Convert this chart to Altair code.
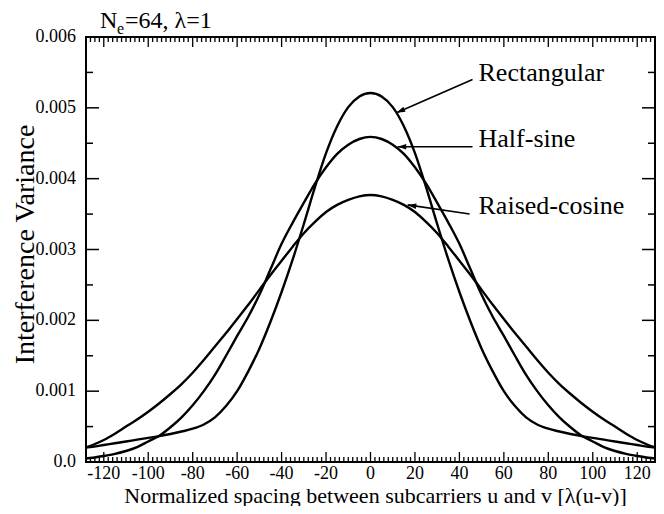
import math
import altair as alt
import pandas as pd

# ---------------- data ----------------
x_vals = [-128, -125, -120, -115, -110, -105, -100, -95, -90, -85, -80, -75, -70, -65,
          -60, -55, -50, -45, -40, -35, -30, -25, -20, -15, -10, -5, 0,
          5, 10, 15, 20, 25, 30, 35, 40, 45, 50, 55, 60, 65, 70, 75, 80, 85, 90, 95,
          100, 105, 110, 115, 120, 125, 128]

rectangular = [0.000205, 0.000215, 0.00024, 0.000265, 0.00029, 0.000315, 0.00034, 0.000365,
               0.000395, 0.00043, 0.00047, 0.00053, 0.00063, 0.00079, 0.00100, 0.00128,
               0.00160, 0.00198, 0.00240, 0.00286, 0.00336, 0.00388, 0.00436, 0.00474,
               0.00501, 0.00516, 0.00521,
               0.00516, 0.00501, 0.00474, 0.00436, 0.00388, 0.00336, 0.00286, 0.00240,
               0.00198, 0.00160, 0.00128, 0.00100, 0.00079, 0.00063, 0.00053, 0.00047,
               0.00043, 0.000395, 0.000365, 0.00034, 0.000315, 0.00029, 0.000265, 0.00024,
               0.000215, 0.000205]

half_sine = [0.00005, 0.00006, 0.000085, 0.000115, 0.000155, 0.00021, 0.00029, 0.00037,
             0.00049, 0.00063, 0.00080, 0.00100, 0.00123, 0.00150, 0.00178, 0.00205,
             0.00236, 0.00272, 0.00308, 0.00338, 0.00366, 0.00393, 0.00416, 0.00435,
             0.00448, 0.00456, 0.00459,
             0.00456, 0.00448, 0.00435, 0.00416, 0.00393, 0.00366, 0.00338, 0.00308,
             0.00272, 0.00236, 0.00205, 0.00178, 0.00150, 0.00123, 0.00100, 0.00080,
             0.00063, 0.00049, 0.00037, 0.00029, 0.00021, 0.000155, 0.000115, 0.000085,
             0.00006, 0.00005]

raised_cosine = [0.000205, 0.00024, 0.00031, 0.00040, 0.00050, 0.00060, 0.00071, 0.00083,
                 0.00096, 0.00110, 0.00126, 0.00144, 0.00163, 0.00182, 0.00202, 0.00222,
                 0.00243, 0.00264, 0.00284, 0.00304, 0.00323, 0.00339, 0.00353, 0.00363,
                 0.00370, 0.00375, 0.00377,
                 0.00375, 0.00370, 0.00363, 0.00353, 0.00339, 0.00323, 0.00304, 0.00284,
                 0.00264, 0.00243, 0.00222, 0.00202, 0.00182, 0.00163, 0.00144, 0.00126,
                 0.00110, 0.00096, 0.00083, 0.00071, 0.00060, 0.00050, 0.00040, 0.00031,
                 0.00024, 0.000205]

series_names = ["Rectangular", "Half-sine", "Raised-cosine"]

# annotation (labels and arrows), in data coordinates
ann_label = ["Rectangular", "Half-sine", "Raised-cosine"]
ann_text_x = [48.6, 48.6, 48.6]
ann_text_y = [0.00538, 0.00445, 0.00350]
ann_start_x = [45.9, 45.9, 44.6]
ann_start_y = [0.00540, 0.00445, 0.00350]
ann_tip_x = [11.7, 12.2, 16.7]
ann_tip_y = [0.00493, 0.00445, 0.00363]

x_major = [-120, -100, -80, -60, -40, -20, 0, 20, 40, 60, 80, 100, 120]
x_labels = ["-120", "-100", "-80", "-60", "-40", "-20", "0", "20", "40", "60", "80", "100", "120"]
x_minor = [v for v in range(-128, 129, 2) if v not in x_major]
y_major = [0.0, 0.001, 0.002, 0.003, 0.004, 0.005, 0.006]
y_labels = ["0.0", "0.001", "0.002", "0.003", "0.004", "0.005", "0.006"]
y_minor = [0.0005, 0.0015, 0.0025, 0.0035, 0.0045, 0.0055]

x_title = "Normalized spacing between subcarriers u and v [λ(u-v)]"
y_title = "Interference Variance"

# ---------------- layout ----------------
W, H = 569, 425
FONT = "Liberation Serif"
XD = [-128, 128]
YD = [0, 0.006]

rows = []
for name, vals in zip(series_names, [rectangular, half_sine, raised_cosine]):
    for xv, yv in zip(x_vals, vals):
        rows.append({"series": name, "x": xv, "v": yv})
df = pd.DataFrame(rows)

xs = alt.Scale(domain=XD, nice=False, zero=False)
ys = alt.Scale(domain=YD, nice=False, zero=False)

x_axis = alt.Axis(
    values=x_major, title=x_title, labels=False,
    titleFont=FONT, titleFontSize=22, titleColor="black", titleFontWeight="normal",
    titleX=289, titleY=40, titleBaseline="alphabetic", titleAlign="center",
    ticks=False, domain=False, grid=False)
y_axis = alt.Axis(
    values=y_major, title=y_title, labels=False,
    titleFont=FONT, titleFontSize=28, titleColor="black", titleFontWeight="normal",
    titleX=-53, titleY=207, titleAngle=270, titleBaseline="alphabetic", titleAlign="center",
    ticks=False, domain=False, grid=False)


def X(field):
    return alt.X(field, type="quantitative", scale=xs, axis=x_axis)


def Y(field):
    return alt.Y(field, type="quantitative", scale=ys, axis=y_axis)


lines = alt.Chart(df).mark_line(color="black", strokeWidth=2.4, interpolate="monotone").encode(
    x=X("x"), y=Y("v"), detail="series:N",
)


def xticks(vals, length):
    d = pd.DataFrame({"x": vals})
    b = alt.Chart(d).mark_rule(color="black", strokeWidth=1.3)
    bottom = b.encode(x=X("x"), y=alt.value(H), y2=alt.value(H - length))
    top = b.encode(x=X("x"), y=alt.value(0), y2=alt.value(length))
    return [bottom, top]


def yticks(vals, length):
    d = pd.DataFrame({"v": vals})
    b = alt.Chart(d).mark_rule(color="black", strokeWidth=1.5)
    left = b.encode(y=Y("v"), x=alt.value(0), x2=alt.value(length))
    right = b.encode(y=Y("v"), x=alt.value(W), x2=alt.value(W - length))
    return [left, right]


# tick labels as text
xl = alt.Chart(pd.DataFrame({"x": x_major, "t": x_labels})).mark_text(
    font=FONT, fontSize=18, align="center", baseline="alphabetic", color="black").encode(
    x=X("x"), y=alt.value(H + 17), text="t:N")
yl = alt.Chart(pd.DataFrame({"v": y_major, "t": y_labels})).mark_text(
    font=FONT, fontSize=18, align="right", baseline="middle", color="black").encode(
    y=Y("v"), x=alt.value(-10), text="t:N")

# annotations
angles = []
for sx, sy, tx, ty in zip(ann_start_x, ann_start_y, ann_tip_x, ann_tip_y):
    dx = (tx - sx) * W / (XD[1] - XD[0])
    dy = -(ty - sy) * H / (YD[1] - YD[0])
    angles.append(math.degrees(math.atan2(dy, dx)) % 360)

ann = pd.DataFrame({
    "label": ann_label, "tx": ann_text_x, "ty": ann_text_y,
    "sx": ann_start_x, "sy": ann_start_y, "px": ann_tip_x, "py": ann_tip_y,
    "angle": angles,
})
ann_base = alt.Chart(ann)
ann_lines = ann_base.mark_rule(color="black", strokeWidth=1.6).encode(
    x=X("sx"), y=Y("sy"), x2="px:Q", y2="py:Q")
ann_heads = ann_base.mark_point(
    shape="M0,0L-1,-0.32L-1,0.32Z", filled=True, color="black", opacity=1, size=300, strokeWidth=0
).encode(
    x=X("px"), y=Y("py"), angle=alt.Angle("angle:Q", scale=None))
ann_text = ann_base.mark_text(font=FONT, fontSize=26, align="left", baseline="alphabetic",
                              color="black").encode(
    x=X("tx"), y=Y("ty"), text="label:N")

# title "N_e=64, λ=1"
t1 = alt.Chart(pd.DataFrame({"t": ["N"]})).mark_text(
    font=FONT, fontSize=24, align="left", baseline="alphabetic", color="black").encode(
    x=alt.value(14), y=alt.value(-9), text="t:N")
t2 = alt.Chart(pd.DataFrame({"t": ["e"]})).mark_text(
    font=FONT, fontSize=16, align="left", baseline="alphabetic", color="black").encode(
    x=alt.value(31), y=alt.value(-3), text="t:N")
t3 = alt.Chart(pd.DataFrame({"t": ["=64, λ=1"]})).mark_text(
    font=FONT, fontSize=24, align="left", baseline="alphabetic", color="black").encode(
    x=alt.value(39), y=alt.value(-9), text="t:N")

chart = alt.layer(
    lines,
    *xticks(x_major, 10), *xticks(x_minor, 5),
    *yticks(y_major, 13), *yticks(y_minor, 7),
    xl, yl,
    ann_lines, ann_heads, ann_text,
    t1, t2, t3,
).properties(
    width=W, height=H,
    autosize=alt.AutoSizeParams(type="none"),
    padding={"left": 78, "top": 29, "right": 1, "bottom": 44},
).configure_view(
    stroke="black", strokeWidth=2
).configure_axis(
    titleFont=FONT, titleColor="black",
    ticks=False, domain=False, grid=False, titleFontWeight="normal",
)

chart.save("out.html", embed_options={"renderer": "svg", "actions": False})
